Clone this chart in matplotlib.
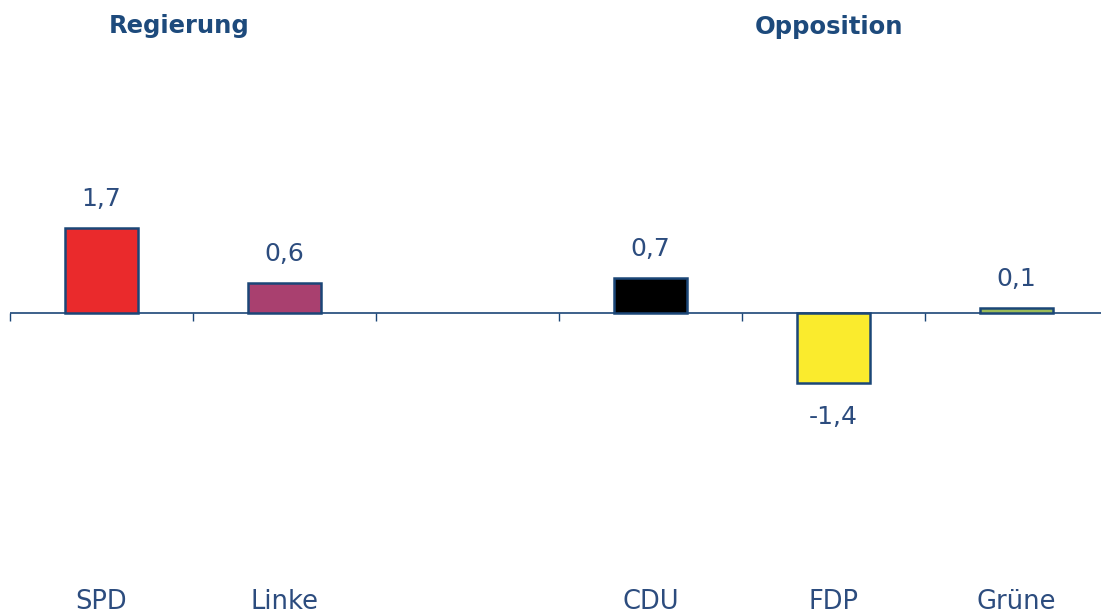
import numpy as np
import matplotlib
matplotlib.use('Agg')
from matplotlib import pyplot as plt

# data
parties=['SPD','Linke','','CDU','FDP','Grüne']
values=[1.7,0.6,None,0.7,-1.4,0.1]
value_labels=['1,7','0,6','','0,7','-1,4','0,1']
colours=['#EA2A2C','#A9406F','#FFFFFF','#000000','#FAEB2D','#9BBB59']
group_titles=['Regierung','Opposition']

edge='#1B4677'
text_col='#2C4C7E'
title_col='#1D4A7C'

plt.rcParams['font.family']=['DejaVu Sans']
fig=plt.figure(figsize=(11.01,6.14),dpi=100)
ax=fig.add_axes([10/1101,(614-438)/614,1098/1101,250/614])

x=np.arange(len(parties))
for i,v in enumerate(values):
    if v is None:
        continue
    ax.bar(x[i],v,width=0.4,color=colours[i],edgecolor=edge,linewidth=1.8,zorder=3)
    if v>=0:
        ax.annotate(value_labels[i],(x[i],v),xytext=(0,16),textcoords='offset points',
                    ha='center',va='baseline',fontsize=18,color=text_col)
    else:
        ax.annotate(value_labels[i],(x[i],v),xytext=(0,-29.5),textcoords='offset points',
                    ha='center',va='baseline',fontsize=18,color=text_col)

ax.set_xlim(-0.5,len(parties)-0.5)
ax.set_ylim(-2.5,2.5)
ax.axhline(0,color=edge,linewidth=1.2,zorder=2)
for s in ax.spines.values():
    s.set_visible(False)
ax.set_yticks([])
ax.set_xticks(np.arange(-0.5,len(parties),1.0))
ax.set_xticklabels([])
ax.tick_params(axis='x',direction='out',length=6,width=1,color=edge,pad=0)
# move ticks to the zero line
ax.spines['bottom'].set_position(('data',0))
ax.patch.set_visible(False)

# category labels at bottom
for i,p in enumerate(parties):
    if p:
        fig.text((10+183*(i+0.5))/1101,1-609/614,p,ha='center',va='baseline',fontsize=18.5,color=text_col)

fig.text(179/1101,1-33/614,group_titles[0],ha='center',va='baseline',fontsize=17.5,fontweight='bold',color=title_col)
fig.text(829/1101,1-34/614,group_titles[1],ha='center',va='baseline',fontsize=17.5,fontweight='bold',color=title_col)

fig.savefig('out.png',dpi=100)
